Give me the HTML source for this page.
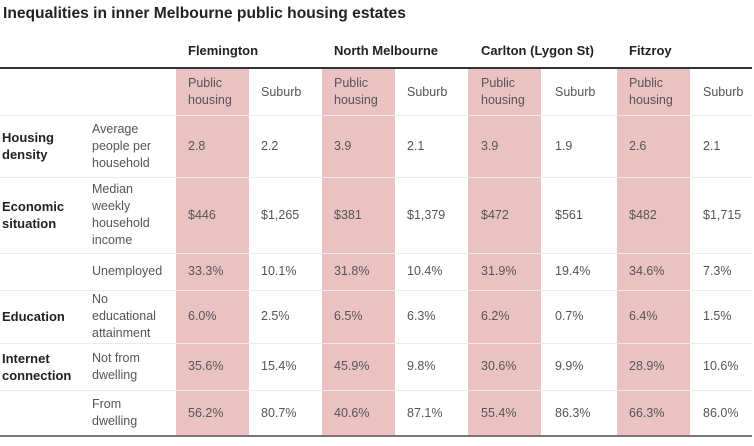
<!DOCTYPE html>
<html><head><meta charset="utf-8"><style>
body{margin:0;width:754px;height:446px;background:#fff;font-family:"Liberation Sans",sans-serif;position:relative;overflow:hidden}
.a{position:absolute}
.pk{position:absolute;top:69px;height:367px;width:73px;background:#ebc2c2}
.hl{position:absolute;left:0;width:752px;height:1px;background:#ececec}
.c{position:absolute;font-size:12.5px;color:#555;line-height:17px;display:flex;align-items:center}
.b{font-weight:bold;color:#222;font-size:13px}
.g{position:absolute;top:43px;font-size:13px;font-weight:bold;color:#222}
</style></head><body>
<div class="a" style="left:3px;top:5px;font-size:15.6px;font-weight:bold;color:#222">Inequalities in inner Melbourne public housing estates</div>
<div class="pk" style="left:176px"></div>
<div class="pk" style="left:322px"></div>
<div class="pk" style="left:468px"></div>
<div class="pk" style="left:617px"></div>
<div class="a" style="left:0;top:67px;width:752px;height:2px;background:#333"></div>
<div class="a" style="left:0;top:435px;width:752px;height:2px;background:#777"></div>
<div class="g" style="left:188px">Flemington</div>
<div class="g" style="left:334px">North Melbourne</div>
<div class="g" style="left:481px">Carlton (Lygon St)</div>
<div class="g" style="left:629px">Fitzroy</div>
<div id="t"></div>
<script>
const rowTops=[69,115,177,253,290,343,390,436];
const labels=["","Housing<br>density","Economic<br>situation","","Education","Internet<br>connection",""];
const subs=["","Average<br>people per<br>household","Median<br>weekly<br>household<br>income","Unemployed","No<br>educational<br>attainment","Not from<br>dwelling","From<br>dwelling"];
const colX=[188,261,334,407,481,555,629,703];
const vals=[
["Public<br>housing","Suburb","Public<br>housing","Suburb","Public<br>housing","Suburb","Public<br>housing","Suburb"],
["2.8","2.2","3.9","2.1","3.9","1.9","2.6","2.1"],
["$446","$1,265","$381","$1,379","$472","$561","$482","$1,715"],
["33.3%","10.1%","31.8%","10.4%","31.9%","19.4%","34.6%","7.3%"],
["6.0%","2.5%","6.5%","6.3%","6.2%","0.7%","6.4%","1.5%"],
["35.6%","15.4%","45.9%","9.8%","30.6%","9.9%","28.9%","10.6%"],
["56.2%","80.7%","40.6%","87.1%","55.4%","86.3%","66.3%","86.0%"]];
const t=document.getElementById('t');
function cell(x,r,html,cls,name){const d=document.createElement('div');d.className='c '+cls;
d.style.left=x+'px';d.style.top=rowTops[r]+'px';d.style.height=(rowTops[r+1]-rowTops[r])+'px';d.innerHTML=html;


t.appendChild(d);}
for(let r=0;r<vals.length;r++){
 if(r>0){const l=document.createElement('div');l.className='hl';l.style.top=rowTops[r]+'px';
 
 
 t.appendChild(l);}
 if(labels[r])cell(2,r,labels[r],'b','row-label');
 if(subs[r])cell(92,r,subs[r],'','row-sublabel');
 vals[r].forEach((v,i)=>cell(colX[i],r,v,'',r==0?'column-header':'value-cell'));
}
</script>
</body></html>
